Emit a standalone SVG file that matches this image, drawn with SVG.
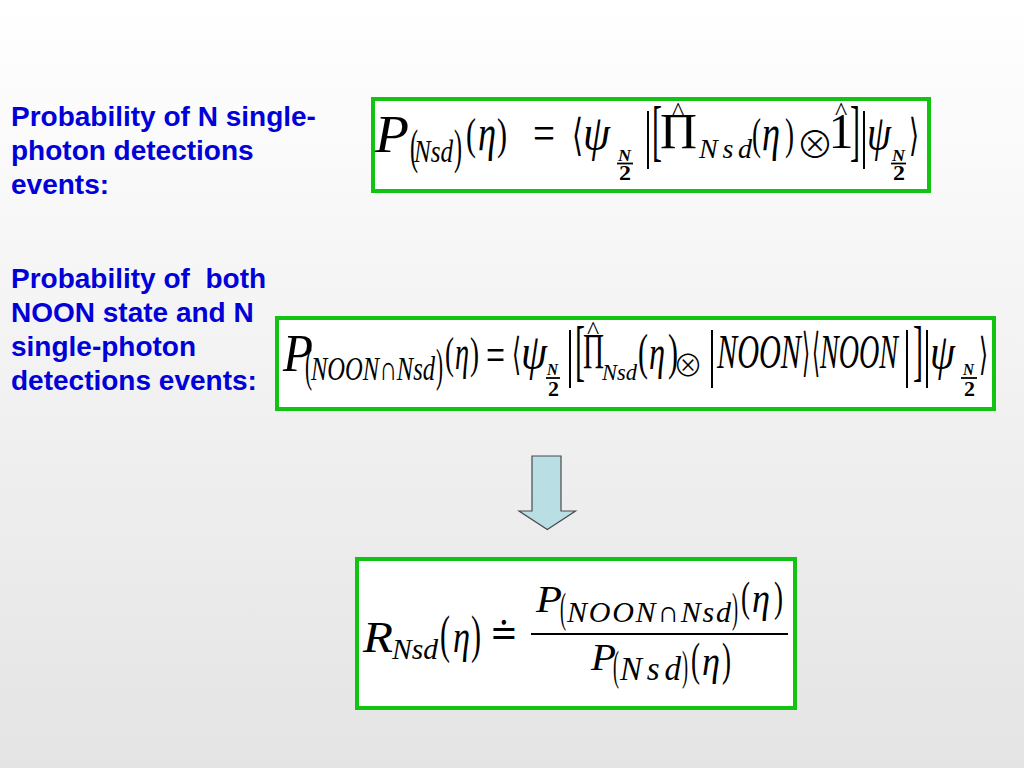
<svg xmlns="http://www.w3.org/2000/svg" width="1024" height="768" viewBox="0 0 1024 768">
<defs>
<linearGradient id="bg" x1="0" y1="0" x2="0" y2="1">
<stop offset="0" stop-color="#FFFFFF"/>
<stop offset="1" stop-color="#E4E4E4"/>
</linearGradient>
<style>
.lbl { font-family: "Liberation Sans", Arial, sans-serif; font-weight: bold; font-size: 28px; fill: #0000D8; }
.box { fill: #FFFFFF; stroke: #12C412; stroke-width: 4; }
.m { font-family: "Liberation Serif", "Times New Roman", serif; fill: #000000; }
.i { font-style: italic; }
.s { font-family: "DejaVu Serif", "Liberation Serif", serif; font-style: normal; }
.o { font-family: "Noto Sans CJK JP", "DejaVu Sans", sans-serif; font-weight: 300; fill: #000000; }
.b { font-weight: bold; }
.bar { stroke: #000000; stroke-width: 1.8; }
</style>
</defs>
<rect x="0" y="0" width="1024" height="768" fill="url(#bg)"/>

<g id="label1">
<text class="lbl" x="11" y="126">Probability of N single-</text>
<text class="lbl" x="11" y="160">photon detections</text>
<text class="lbl" x="11" y="194">events:</text>
</g>

<g id="label2">
<text class="lbl" x="11" y="288" xml:space="preserve">Probability of  both</text>
<text class="lbl" x="11" y="322">NOON state and N</text>
<text class="lbl" x="11" y="356">single-photon</text>
<text class="lbl" x="11" y="390">detections events:</text>
</g>

<g id="formula1">
<rect class="box" x="373" y="99" width="556" height="92"/>
<line class="bar" x1="617" y1="163.5" x2="633" y2="163.5"/>
<line class="bar" x1="891" y1="163.5" x2="906" y2="163.5"/>
<text class="m"><tspan class="i" x="375" y="152" font-size="52" textLength="34" lengthAdjust="spacingAndGlyphs">P</tspan><tspan x="410" y="163" font-size="48" textLength="8" lengthAdjust="spacingAndGlyphs">(</tspan><tspan class="i" x="414" y="162" font-size="32" textLength="39" lengthAdjust="spacingAndGlyphs">Nsd</tspan><tspan x="454" y="163" font-size="48" textLength="8" lengthAdjust="spacingAndGlyphs">)</tspan><tspan x="466" y="149" font-size="45" textLength="10" lengthAdjust="spacingAndGlyphs">(</tspan><tspan class="i" x="478" y="150" font-size="50" textLength="18" lengthAdjust="spacingAndGlyphs">η</tspan><tspan x="497" y="149" font-size="45" textLength="10" lengthAdjust="spacingAndGlyphs">)</tspan><tspan x="533" y="150" font-size="50" textLength="22" lengthAdjust="spacingAndGlyphs">=</tspan><tspan class="s" x="572" y="150" font-size="44" textLength="11" lengthAdjust="spacingAndGlyphs">⟨</tspan><tspan class="i" x="583" y="150" font-size="50" textLength="27" lengthAdjust="spacingAndGlyphs">ψ</tspan><tspan class="i b" x="618" y="161" font-size="16" textLength="13" lengthAdjust="spacingAndGlyphs">N</tspan><tspan class="b" x="619" y="180" font-size="20" textLength="12" lengthAdjust="spacingAndGlyphs">2</tspan><tspan x="644" y="155" font-size="64" textLength="8" lengthAdjust="spacingAndGlyphs">|</tspan><tspan x="652" y="153" font-size="68" textLength="10" lengthAdjust="spacingAndGlyphs">[</tspan><tspan x="660" y="148" font-size="50" textLength="37" lengthAdjust="spacingAndGlyphs">Π</tspan><tspan x="672" y="119.5" font-size="26">^</tspan><tspan class="i" x="699" y="158" font-size="28" textLength="53" lengthAdjust="spacing">Nsd</tspan><tspan x="752" y="149" font-size="45" textLength="9" lengthAdjust="spacingAndGlyphs">(</tspan><tspan class="i" x="762" y="150" font-size="50" textLength="18" lengthAdjust="spacingAndGlyphs">η</tspan><tspan x="785" y="149" font-size="45" textLength="9" lengthAdjust="spacingAndGlyphs">)</tspan><tspan x="828.5" y="148" font-size="50">1</tspan><tspan x="835" y="119.5" font-size="26">^</tspan><tspan x="850" y="153" font-size="68" textLength="10" lengthAdjust="spacingAndGlyphs">]</tspan><tspan x="860" y="155" font-size="64" textLength="8" lengthAdjust="spacingAndGlyphs">|</tspan><tspan class="i" x="867" y="150" font-size="50" textLength="24" lengthAdjust="spacingAndGlyphs">ψ</tspan><tspan class="i b" x="892" y="161" font-size="16" textLength="13" lengthAdjust="spacingAndGlyphs">N</tspan><tspan class="b" x="893" y="180" font-size="20" textLength="12" lengthAdjust="spacingAndGlyphs">2</tspan><tspan class="s" x="909" y="150" font-size="44" textLength="10" lengthAdjust="spacingAndGlyphs">⟩</tspan></text>
<text class="o" x="815" y="158" font-size="38" text-anchor="middle">⊗</text>
</g>

<g id="formula2">
<rect class="box" x="277" y="318" width="717" height="91"/>
<line class="bar" x1="546" y1="378" x2="560" y2="378"/>
<line class="bar" x1="961" y1="378" x2="977" y2="378"/>
<text class="m"><tspan class="i" x="283" y="371" font-size="52" textLength="30" lengthAdjust="spacingAndGlyphs">P</tspan><tspan x="305" y="381" font-size="46" textLength="7" lengthAdjust="spacingAndGlyphs">(</tspan><tspan class="i" x="311" y="380" font-size="34" textLength="124" lengthAdjust="spacingAndGlyphs">NOON∩Nsd</tspan><tspan x="436" y="381" font-size="46" textLength="7" lengthAdjust="spacingAndGlyphs">)</tspan><tspan x="445" y="368" font-size="45" textLength="9" lengthAdjust="spacingAndGlyphs">(</tspan><tspan class="i" x="455" y="369" font-size="48" textLength="14" lengthAdjust="spacingAndGlyphs">η</tspan><tspan x="470" y="368" font-size="45" textLength="9" lengthAdjust="spacingAndGlyphs">)</tspan><tspan x="486" y="371" font-size="48" textLength="19" lengthAdjust="spacingAndGlyphs">=</tspan><tspan class="s" x="512" y="369" font-size="44" textLength="9" lengthAdjust="spacingAndGlyphs">⟨</tspan><tspan class="i" x="521" y="369" font-size="50" textLength="26" lengthAdjust="spacingAndGlyphs">ψ</tspan><tspan class="i b" x="547" y="375" font-size="16" textLength="11" lengthAdjust="spacingAndGlyphs">N</tspan><tspan class="b" x="548" y="396" font-size="20" textLength="11" lengthAdjust="spacingAndGlyphs">2</tspan><tspan x="566" y="374" font-size="64" textLength="8" lengthAdjust="spacingAndGlyphs">|</tspan><tspan x="575" y="373" font-size="68" textLength="10" lengthAdjust="spacingAndGlyphs">[</tspan><tspan x="583" y="368" font-size="50" textLength="21" lengthAdjust="spacingAndGlyphs">Π</tspan><tspan x="587" y="339" font-size="26">^</tspan><tspan class="i" x="602" y="380" font-size="24" textLength="35" lengthAdjust="spacingAndGlyphs">Nsd</tspan><tspan x="638" y="369" font-size="50" textLength="10" lengthAdjust="spacingAndGlyphs">(</tspan><tspan class="i" x="649" y="369" font-size="48" textLength="16" lengthAdjust="spacingAndGlyphs">η</tspan><tspan x="668" y="369" font-size="50" textLength="10" lengthAdjust="spacingAndGlyphs">)</tspan><tspan x="708" y="374" font-size="64" textLength="8" lengthAdjust="spacingAndGlyphs">|</tspan><tspan class="i" x="717" y="368" font-size="48" textLength="84" lengthAdjust="spacingAndGlyphs">NOON</tspan><tspan class="s" x="802" y="370" font-size="52" textLength="8" lengthAdjust="spacingAndGlyphs">⟩</tspan><tspan class="s" x="812" y="370" font-size="52" textLength="8" lengthAdjust="spacingAndGlyphs">⟨</tspan><tspan class="i" x="820" y="368" font-size="48" textLength="78" lengthAdjust="spacingAndGlyphs">NOON</tspan><tspan x="903" y="374" font-size="64" textLength="8" lengthAdjust="spacingAndGlyphs">|</tspan><tspan x="913" y="373" font-size="68" textLength="10" lengthAdjust="spacingAndGlyphs">]</tspan><tspan x="923" y="374" font-size="64" textLength="8" lengthAdjust="spacingAndGlyphs">|</tspan><tspan class="i" x="930" y="369" font-size="50" textLength="25" lengthAdjust="spacingAndGlyphs">ψ</tspan><tspan class="i b" x="963" y="375" font-size="16" textLength="11" lengthAdjust="spacingAndGlyphs">N</tspan><tspan class="b" x="964" y="396" font-size="20" textLength="11" lengthAdjust="spacingAndGlyphs">2</tspan><tspan class="s" x="979" y="369" font-size="44" textLength="9" lengthAdjust="spacingAndGlyphs">⟩</tspan></text>
<text class="o" x="688" y="376" font-size="30" text-anchor="middle">⊗</text>
</g>

<g id="connectors">
<polygon points="532,456 561,456 561,511 575.5,511 547.3,529.5 519,511 532,511" fill="#B9DFE4" stroke="#4A4A4A" stroke-width="1.2"/>
</g>

<g id="formula3">
<rect class="box" x="357" y="559" width="438" height="149"/>
<line class="bar" x1="531" y1="634" x2="788" y2="634"/>
<text class="m"><tspan class="i" x="363" y="652" font-size="44" textLength="30" lengthAdjust="spacingAndGlyphs">R</tspan><tspan class="i" x="392" y="659" font-size="30" textLength="46" lengthAdjust="spacingAndGlyphs">Nsd</tspan><tspan x="440" y="652" font-size="53" textLength="10" lengthAdjust="spacingAndGlyphs">(</tspan><tspan class="i" x="453" y="652" font-size="46" textLength="17" lengthAdjust="spacingAndGlyphs">η</tspan><tspan x="471" y="652" font-size="53" textLength="10" lengthAdjust="spacingAndGlyphs">)</tspan><tspan class="s" x="490" y="646" font-size="40" textLength="28" lengthAdjust="spacingAndGlyphs">≐</tspan><tspan class="i" x="536" y="612" font-size="38" textLength="26" lengthAdjust="spacingAndGlyphs">P</tspan><tspan x="560" y="622" font-size="42" textLength="6" lengthAdjust="spacingAndGlyphs">(</tspan><tspan class="i" x="567" y="622" font-size="30" textLength="164" lengthAdjust="spacing">NOON∩Nsd</tspan><tspan x="732" y="622" font-size="42" textLength="6" lengthAdjust="spacingAndGlyphs">)</tspan><tspan x="741" y="611" font-size="43" textLength="9" lengthAdjust="spacingAndGlyphs">(</tspan><tspan class="i" x="752" y="612" font-size="42" textLength="18" lengthAdjust="spacingAndGlyphs">η</tspan><tspan x="774" y="611" font-size="43" textLength="9" lengthAdjust="spacingAndGlyphs">)</tspan><tspan class="i" x="591" y="670" font-size="38" textLength="25" lengthAdjust="spacingAndGlyphs">P</tspan><tspan x="613" y="680" font-size="42" textLength="6" lengthAdjust="spacingAndGlyphs">(</tspan><tspan class="i" x="620" y="680" font-size="33" textLength="61" lengthAdjust="spacing">Nsd</tspan><tspan x="682" y="680" font-size="42" textLength="6" lengthAdjust="spacingAndGlyphs">)</tspan><tspan x="691" y="675" font-size="46" textLength="9" lengthAdjust="spacingAndGlyphs">(</tspan><tspan class="i" x="702" y="675" font-size="42" textLength="18" lengthAdjust="spacingAndGlyphs">η</tspan><tspan x="722" y="675" font-size="46" textLength="9" lengthAdjust="spacingAndGlyphs">)</tspan></text>
</g>
</svg>
